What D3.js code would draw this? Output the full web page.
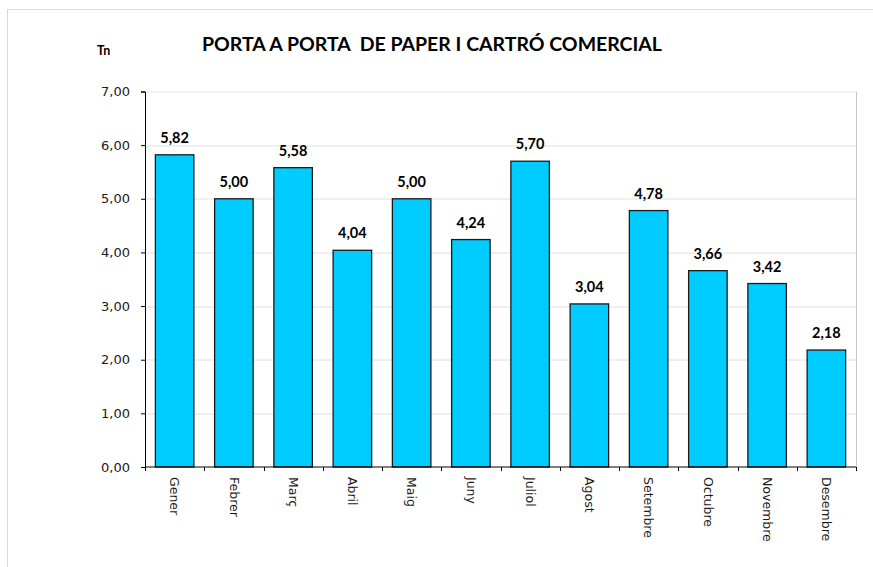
<!DOCTYPE html>
<html>
<head>
<meta charset="utf-8">
<script src="https://cdn.jsdelivr.net/npm/d3@7"></script>
<style>
	body { margin: 0; background: #fff; }
	svg { display: block; }
</style>
</head>
<body>
<div id="viz-container"></div>
<script>
var MONTHS = ['Gener', 'Febrer', 'Març', 'Abril', 'Maig', 'Juny', 'Juliol', 'Agost', 'Setembre', 'Octubre', 'Novembre', 'Desembre'];
var TONNES = [5.82, 5.00, 5.58, 4.04, 5.00, 4.24, 5.70, 3.04, 4.78, 3.66, 3.42, 2.18];
var Y_TICKS = [0, 1, 2, 3, 4, 5, 6, 7];
var TITLE = 'PORTA A PORTA  DE PAPER I CARTRÓ COMERCIAL';

var svg = d3.select('#viz-container').append('svg')
	.attr('width', 873)
	.attr('height', 567);

var margin = {top: 91.5, right: 17, bottom: 100, left: 145},
    width = 873 - margin.left - margin.right,
    height = 567 - margin.top - margin.bottom;

var fmt = function(v) { return d3.format('.2f')(v).replace('.', ','); };

// chart frame
svg.append('rect')
	.attr('x', 7.5).attr('y', 9.5)
	.attr('width', 880).attr('height', 580)
	.attr('fill', 'none')
	.attr('stroke', '#d9d9d9');

svg.append('text')
	.attr('x', 432)
	.attr('y', 51)
	.attr('text-anchor', 'middle')
	.style('font-family', 'Lato, "Open Sans", sans-serif')
	.style('font-weight', 'bold')
	.style('font-size', '19.5px')
	.style('white-space', 'pre')
	.attr('xml:space', 'preserve')
	.text(TITLE);

svg.append('text')
	.attr('x', 97)
	.attr('y', 55)
	.style('font-family', 'Lato, sans-serif')
	.style('font-weight', 'bold')
	.style('font-size', '12.5px')
	.text('Tn');

var g = svg.append('g')
	.attr('transform', 'translate(' + margin.left + ',' + margin.top + ')');

var x = d3.scaleBand()
	.domain(MONTHS)
	.range([0, width])
	.paddingInner(0.35)
	.paddingOuter(0.175);

var y = d3.scaleLinear()
	.domain([0, 7])
	.range([height, 0]);

// gridlines
g.append('g').selectAll('line')
	.data(Y_TICKS.slice(1))
	.enter().append('line')
	.attr('x1', 0).attr('x2', width)
	.attr('y1', function(d) { return Math.round(y(d)) + 0.5; })
	.attr('y2', function(d) { return Math.round(y(d)) + 0.5; })
	.attr('stroke', '#e0e0e0');

// plot border right
g.append('line')
	.attr('x1', width + 0.5).attr('x2', width + 0.5)
	.attr('y1', 0).attr('y2', height)
	.attr('stroke', '#c8c8c8');

g.append('g').selectAll('rect')
	.data(TONNES)
	.enter().append('rect')
	.attr('x', function(d, i) { return x(MONTHS[i]); })
	.attr('y', function(d) { return y(d); })
	.attr('width', x.bandwidth())
	.attr('height', function(d) { return height - y(d); })
	.attr('fill', '#00ccff')
	.attr('stroke', '#1a1a1a')
	.attr('stroke-width', 1.3);

g.append('g').selectAll('text')
	.data(TONNES)
	.enter().append('text')
	.attr('x', function(d, i) { return x(MONTHS[i]) + x.bandwidth() / 2; })
	.attr('y', function(d) { return y(d) - 12; })
	.attr('text-anchor', 'middle')
	.style('font-family', 'Lato, sans-serif')
	.style('font-weight', 'bold')
	.style('font-size', '14.5px')
	.text(function(d) { return fmt(d); });

// y axis
var yAxis = g.append('g')
	.call(d3.axisLeft(y).tickValues(Y_TICKS).tickFormat(fmt).tickSize(4).tickPadding(11));
yAxis.selectAll('text')
	.style('font-family', '"DejaVu Sans", sans-serif')
	.style('font-size', '13px')
	.attr('fill', '#1a1a1a');
yAxis.selectAll('line, path').attr('stroke', '#000');

// x axis with ticks at band boundaries
var xAxis = g.append('g')
	.attr('transform', 'translate(0,' + height + ')');
xAxis.append('line')
	.attr('x1', 0).attr('x2', width)
	.attr('stroke', '#000');
xAxis.selectAll('.tick')
	.data(d3.range(MONTHS.length + 1))
	.enter().append('line')
	.attr('class', 'tick')
	.attr('x1', function(i) { return Math.round(i * width / MONTHS.length) + 0.5; })
	.attr('x2', function(i) { return Math.round(i * width / MONTHS.length) + 0.5; })
	.attr('y1', 0).attr('y2', 4)
	.attr('stroke', '#000');
xAxis.selectAll('.lbl')
	.data(MONTHS)
	.enter().append('text')
	.attr('class', 'lbl')
	.attr('transform', function(d) {
		return 'translate(' + (x(d) + x.bandwidth() / 2) + ',10) rotate(90)';
	})
	.attr('dy', '0.35em')
	.style('font-family', '"DejaVu Sans", sans-serif')
	.style('font-size', '12.5px')
	.attr('fill', '#1a1a1a')
	.text(function(d) { return d; });
</script>
</body>
</html>
